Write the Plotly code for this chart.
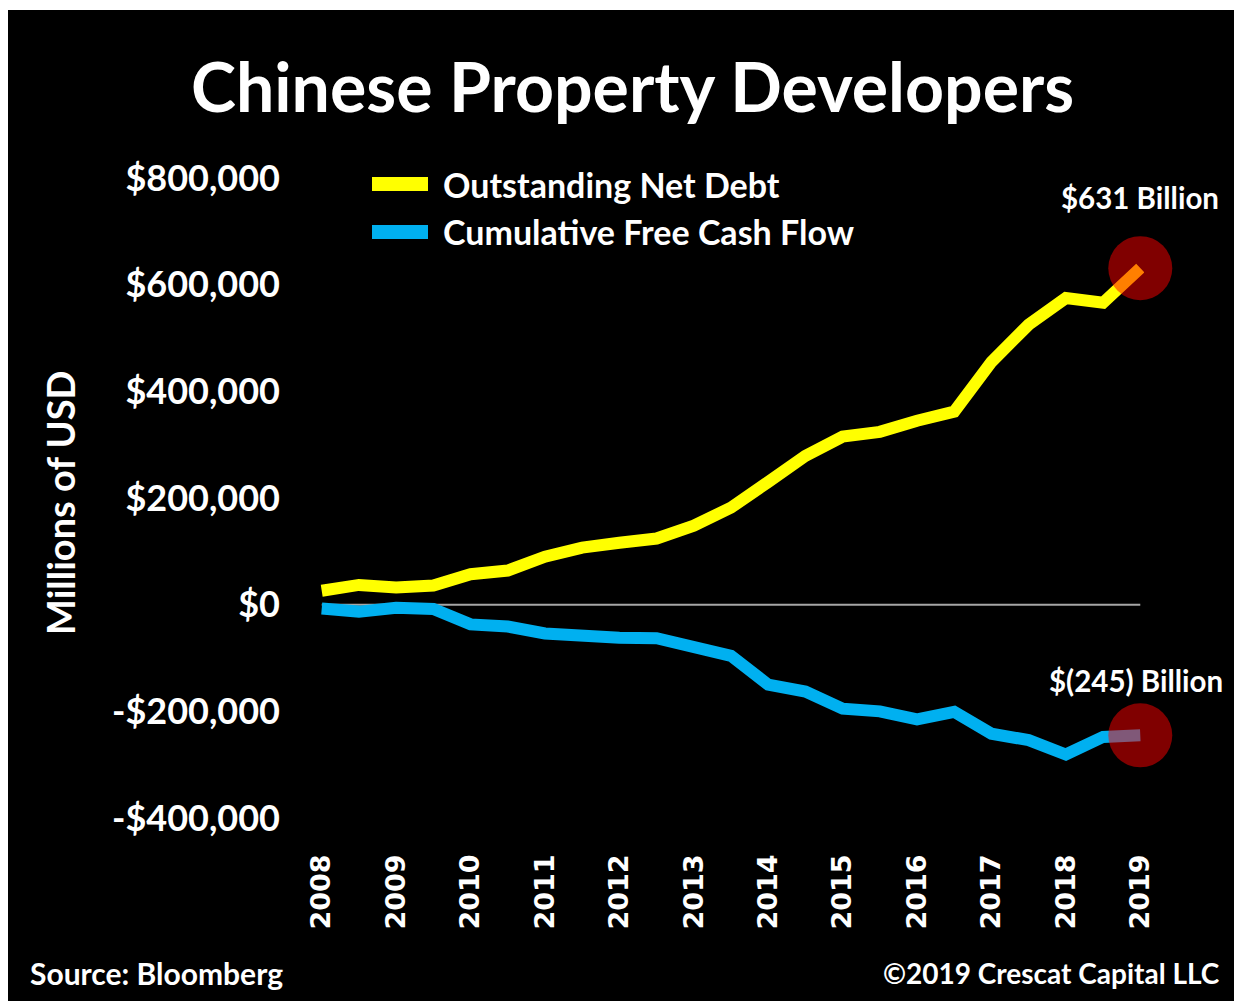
import plotly.graph_objects as go

# Half-yearly observations, millions of USD
periods = [2008.0, 2008.5, 2009.0, 2009.5, 2010.0, 2010.5, 2011.0, 2011.5,
           2012.0, 2012.5, 2013.0, 2013.5, 2014.0, 2014.5, 2015.0, 2015.5,
           2016.0, 2016.5, 2017.0, 2017.5, 2018.0, 2018.5, 2019.0]
net_debt = [26000, 37000, 32000, 36000, 57000, 64000, 90000, 107000,
            116000, 124000, 148000, 182000, 230000, 279000, 315000, 324000,
            345000, 362000, 455000, 525000, 575000, 566000, 631000]
free_cash_flow = [-7000, -13000, -6000, -8000, -37000, -41000, -54000, -59000,
                  -62000, -63000, -78000, -96000, -150000, -163000, -195000, -200000,
                  -215000, -201000, -242000, -254000, -281000, -248000, -245000]

year_ticks = list(range(2008, 2020))
y_ticks = [800000, 600000, 400000, 200000, 0, -200000, -400000]
y_tick_text = ["$800,000", "$600,000", "$400,000", "$200,000", "$0",
               "-$200,000", "-$400,000"]

series_names = ["Outstanding Net Debt", "Cumulative Free Cash Flow"]
series_colors = ["#FFFF00", "#00B0F0"]
end_labels = ["$631 Billion", "$(245) Billion"]

W, H = 1234, 1001
ML, MR, MT, MB = 318, 90, 162, 167
PW, PH = W - ML - MR, H - MT - MB


def px(x):
    return (x - ML) / PW


def py(y):
    return (H - MB - y) / PH


FONT = "Lato"
fig = go.Figure()

for name, vals, col in zip(series_names, [net_debt, free_cash_flow], series_colors):
    fig.add_trace(go.Scatter(x=periods, y=vals, mode="lines", name=name,
                             line=dict(color=col, width=12), showlegend=False))

# highlight circles at the latest values
fig.add_trace(go.Scatter(x=[periods[-1], periods[-1]], y=[net_debt[-1], free_cash_flow[-1]],
                         mode="markers", cliponaxis=False, showlegend=False,
                         marker=dict(size=64, color="rgba(255,0,0,0.5)", line=dict(width=0))))

shapes = [
    dict(type="line", xref="x", yref="y", x0=2008, x1=2019, y0=0, y1=0,
         line=dict(color="#A6A6A6", width=2), layer="below"),
    dict(type="rect", xref="paper", yref="paper", x0=px(0), x1=px(W), y0=py(0), y1=py(10),
         fillcolor="white", line=dict(width=0)),
    dict(type="rect", xref="paper", yref="paper", x0=px(0), x1=px(8), y0=py(0), y1=py(H),
         fillcolor="white", line=dict(width=0)),
]


def label(text, x, y, size, xanchor="center", angle=0):
    return dict(text="<b>" + text + "</b>", x=px(x), y=py(y), xref="paper", yref="paper",
                showarrow=False, textangle=angle, xanchor=xanchor, yanchor="middle",
                font=dict(family=FONT, size=size, color="white"))


annotations = [
    label("Chinese Property Developers", 632, 85, 68),
    label("Millions of USD", 60, 503, 38, angle=-90),
    label("Source: Bloomberg", 28, 973, 30, xanchor="left"),
    label("©2019 Crescat Capital LLC", 1222, 973, 28, xanchor="right"),
    label(end_labels[0], 1140, 197, 29.5),
    label(end_labels[1], 1136, 680, 29.5),
]

# legend keys and labels
for i, (name, col) in enumerate(zip(series_names, series_colors)):
    yk = 184 + 48 * i
    shapes.append(dict(type="line", xref="paper", yref="paper", x0=px(372), x1=px(428),
                       y0=py(yk), y1=py(yk), line=dict(color=col, width=14)))
    annotations.append(label(name, 441, yk, 34, xanchor="left"))

fig.update_layout(
    width=W, height=H,
    margin=dict(l=ML, r=MR, t=MT, b=MB, pad=0),
    paper_bgcolor="black", plot_bgcolor="black",
    showlegend=False,
    shapes=shapes, annotations=annotations,
    xaxis=dict(range=[2007.95, 2019.05], tickvals=year_ticks,
               ticktext=["<b>" + str(y) + "</b>" for y in year_ticks],
               tickangle=-90, showgrid=False, zeroline=False, showline=False,
               tickfont=dict(family="DejaVu Sans", size=27, color="white"),
               ticks="", ticklabelstandoff=14),
    yaxis=dict(range=[-430000, 830000], tickvals=y_ticks, ticktext=["<b>" + t + "</b>" for t in y_tick_text],
               showgrid=False, zeroline=False, showline=False,
               tickfont=dict(family=FONT, size=36, color="white"),
               ticks="", ticklabelstandoff=37),
)

fig.write_html("out.html")
